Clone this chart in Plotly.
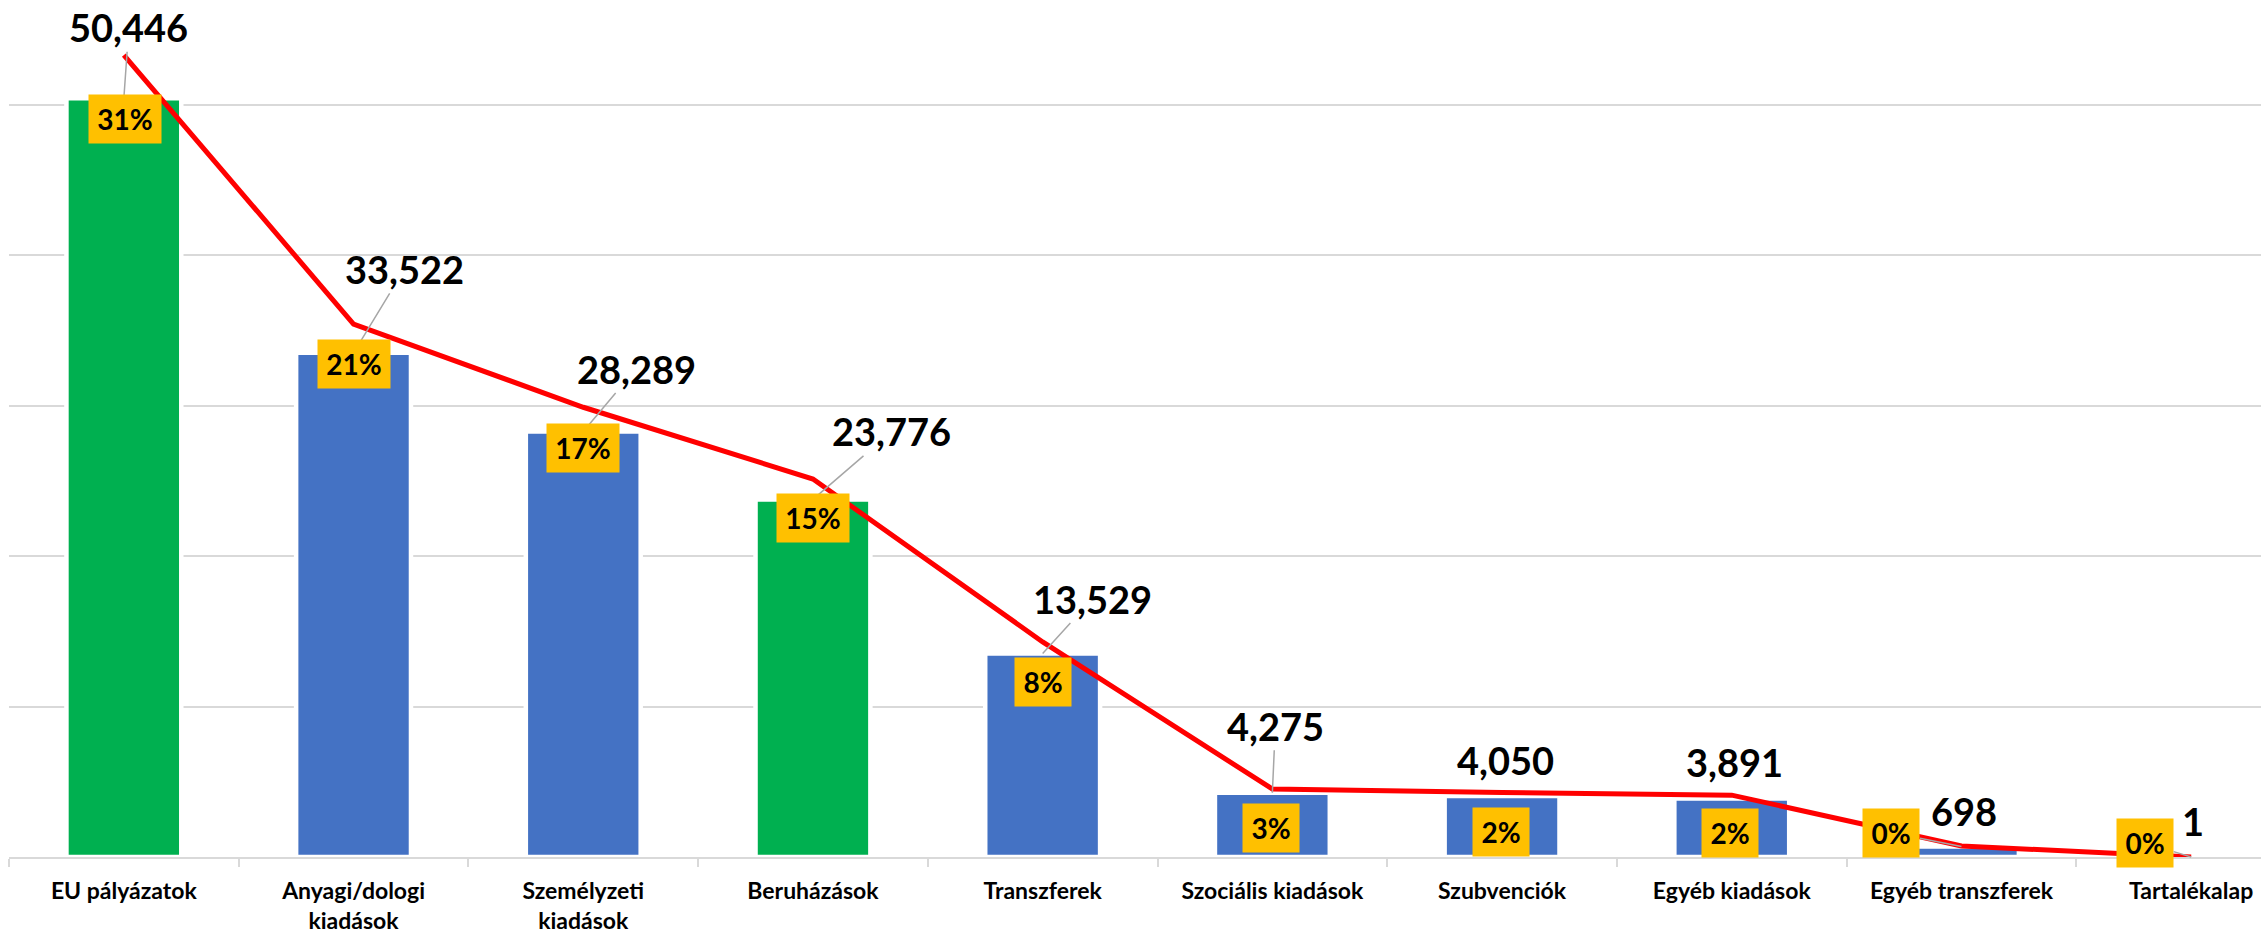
import plotly.graph_objects as go

# adatok
categories = ["EU pályázatok", "Anyagi/dologi<br>kiadások", "Személyzeti<br>kiadások", "Beruházások",
              "Transzferek", "Szociális kiadások", "Szubvenciók", "Egyéb kiadások",
              "Egyéb transzferek", "Tartalékalap"]
amounts = [50446, 33522, 28289, 23776, 13529, 4275, 4050, 3891, 698, 1]
shares = [31, 21, 17, 15, 8, 3, 2, 2, 0, 0]
green_items = {"EU pályázatok", "Beruházások"}

GREEN = "#00B050"
BLUE = "#4472C4"
RED = "#FF0000"
GOLD = "#FFC000"
GRID = "#D9D9D9"
LEADER = "#A6A6A6"
FONT = "Lato, 'Liberation Sans', sans-serif"

# hand-placed label offsets in px (dx, dy; dy down) from the bar tops
value_off = [(5, -71), (51, -84), (53, -63), (79, -68), (50, -55),
             (3, -67), (3, -36), (3, -36), (3, -36), (2, -36)]
value_leader = [True, True, True, True, True, True, False, False, False, False]
share_off = [(1, 21), (0, 11), (0, 16), (0, 19), (0, 28),
             (-1, 35), (-1, 36), (-2, 35), (-70, -14), (-46, -14)]
share_leader = [False] * 8 + [True, True]

colors = [GREEN if c in green_items else BLUE for c in categories]

fig = go.Figure()
fig.add_trace(go.Bar(
    x=categories, y=amounts, width=0.5,
    marker=dict(color=colors, line=dict(color="white", width=4.5)),
    hoverinfo="skip", yaxis="y"))
fig.add_trace(go.Scatter(
    x=categories, y=amounts, mode="lines",
    line=dict(color=RED, width=5), yaxis="y2"))

annotations = []
# értékcímkék
for c, v, (dx, dy), lead in zip(categories, amounts, value_off, value_leader):
    a = dict(x=c, y=v, xref="x", yref="y", text=f"{v:,}",
             font=dict(family=FONT, size=38, color="black", weight="bold"))
    if lead:
        a.update(showarrow=True, ax=dx, ay=dy, arrowhead=0, arrowwidth=1.5,
                 arrowcolor=LEADER, standoff=0)
    else:
        a.update(showarrow=False, xshift=dx, yshift=-dy)
    annotations.append(a)
# százalékos címkék
for c, v, s, (dx, dy), lead in zip(categories, amounts, shares, share_off, share_leader):
    txt = f"{s}%"
    a = dict(x=c, y=v, xref="x", yref="y", text=txt, bgcolor=GOLD, borderpad=0,
             width=72 if len(txt) > 2 else 56, height=48,
             font=dict(family=FONT, size=28, color="black", weight="bold"))
    if lead:
        a.update(showarrow=True, ax=dx, ay=dy, arrowhead=0, arrowwidth=1.5,
                 arrowcolor=LEADER, standoff=0)
    else:
        a.update(showarrow=False, xshift=dx, yshift=-dy)
    annotations.append(a)

fig.update_layout(
    width=2261, height=936,
    margin=dict(l=9, r=0, t=0, b=79),
    plot_bgcolor="white", paper_bgcolor="white",
    showlegend=False,
    annotations=annotations,
    xaxis=dict(type="category", range=[-0.5, 9.304], showline=True, linecolor=GRID,
               linewidth=2, ticks="outside", tickson="boundaries", ticklen=8, tickwidth=2,
               tickcolor=GRID, showgrid=False, automargin=False, ticklabelstandoff=12,
               tickfont=dict(family=FONT, size=23, color="black", weight="bold")),
    yaxis=dict(range=[0, 56981], dtick=10000, showgrid=True, gridcolor=GRID, gridwidth=2,
               showticklabels=False, zeroline=False, showline=False),
    yaxis2=dict(range=[0, 53906], overlaying="y", visible=False),
)

fig.write_html("out.html", config={"displayModeBar": False},
               post_script="document.body.style.margin='0';")
